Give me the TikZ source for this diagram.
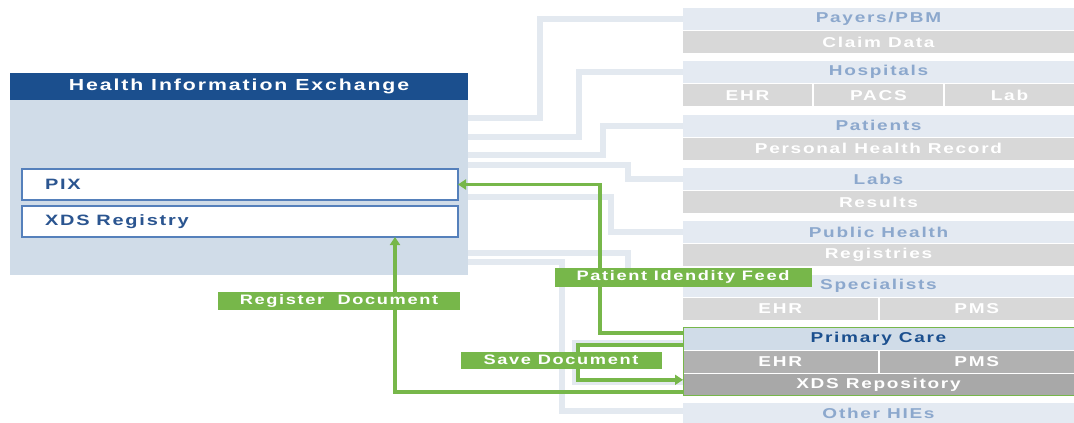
\documentclass[tikz,border=0pt]{standalone}
\usepackage{fontspec}
\setmainfont{Liberation Sans}
\newfontfamily\hiefont[LetterSpace=12,FakeStretch=1.33]{Liberation Sans}
\usetikzlibrary{
    arrows.meta,
    backgrounds,
    calc,
    fit,
    positioning
}
\definecolor{hieblue}{HTML}{1B4F8E}
\definecolor{hiepale}{HTML}{D0DCE8}
\definecolor{hieframe}{HTML}{5580BB}
\definecolor{hietext}{HTML}{2B5590}
\definecolor{grouppale}{HTML}{E4EAF2}
\definecolor{grouptext}{HTML}{8CA8CD}
\definecolor{datagrey}{HTML}{D8D8D8}
\definecolor{primgrey}{HTML}{B1B1B1}
\definecolor{repogrey}{HTML}{A8A8A8}
\definecolor{linkgrey}{HTML}{E3E9F0}
\definecolor{feedgreen}{HTML}{77B74A}
\tikzset{
    % HIE side
    hie body/.style={
        fill=hiepale,
        anchor=north west,
        minimum width=458pt,
        minimum height=202pt,
        inner sep=0pt,
        outer sep=0pt
    },
    hie head/.style={
        fill=hieblue,
        text=white,
        anchor=north west,
        minimum width=458pt,
        minimum height=27pt,
        inner sep=0pt,
        outer sep=0pt,
        font=\hiefont\bfseries\fontsize{16}{18}\selectfont
    },
    hie item/.style={
        draw=hieframe,
        line width=1.2pt,
        fill=white,
        text=hietext,
        text width=390pt,
        align=left,
        inner xsep=23pt,
        inner ysep=0pt,
        minimum height=31pt,
        outer sep=0pt,
        font=\hiefont\bfseries\fontsize{15}{17}\selectfont
    },
    % participant boxes
    group head/.style={
        fill=grouppale,
        text=grouptext,
        minimum width=391pt,
        minimum height=22pt,
        inner sep=0pt,
        outer sep=0pt,
        font=\hiefont\bfseries\fontsize{14.3}{16}\selectfont
    },
    group data/.style={
        fill=datagrey,
        text=white,
        minimum width=391pt,
        minimum height=22pt,
        inner sep=0pt,
        outer sep=0pt,
        font=\hiefont\bfseries\fontsize{14.3}{16}\selectfont
    },
    third/.style={minimum width=129pt},
    half/.style={minimum width=194.5pt},
    % connectors
    link/.style={
        linkgrey,
        line width=6pt
    },
    feed/.style={
        feedgreen,
        line width=3.5pt,
        -{Triangle[width=10pt,length=8pt]}
    },
    feed label/.style={
        fill=feedgreen,
        text=white,
        inner sep=0pt,
        font=\hiefont\bfseries\fontsize{13.7}{15}\selectfont
    }
}

\begin{document}
\begin{tikzpicture}[x=1pt, y=-1pt, node distance=1pt]
    \useasboundingbox (0,0) rectangle (1074,423);

    % exchange
    \node[hie body] (hie) at (10,73) {};
    \node[hie head] (hietitle) at (hie.north west) {Health Information Exchange};
    \node[hie item, anchor=north west] (pix) at (22,169) {PIX};
    \node[hie item, below=6pt of pix] (xdsreg) {XDS\hspace{0.45em}Registry};

    % participants
    \node[group head, anchor=north west] (payers) at (683,8) {Payers/PBM};
    \node[group data, below=of payers] (claims) {Claim Data};

    \node[group head, below=8.3pt of claims] (hospitals) {Hospitals};
    \node[group data, third, below=of hospitals.south west, anchor=north west] (hospehr) {EHR};
    \node[group data, third, right=2pt of hospehr] (hosppacs) {PACS};
    \node[group data, third, right=2pt of hosppacs] (hosplab) {Lab};

    \node[group head, below=8.3pt of hospehr.south west, anchor=north west] (patients) {Patients};
    \node[group data, below=of patients] (phr) {Personal Health Record};

    \node[group head, below=8.3pt of phr] (labs) {Labs};
    \node[group data, below=of labs] (results) {Results};

    \node[group head, below=8.3pt of results] (public) {Public Health};
    \node[group data, below=of public] (registries) {Registries};

    \node[group head, below=8.3pt of registries] (specialists) {Specialists};
    \node[group data, half, below=of specialists.south west, anchor=north west] (specehr) {EHR};
    \node[group data, half, right=2pt of specehr] (specpms) {PMS};

    \node[group head, fill=hiepale, text=hieblue, below=8.3pt of specehr.south west, anchor=north west] (primary) {Primary Care};
    \node[group data, half, fill=primgrey, below=of primary.south west, anchor=north west] (primehr) {EHR};
    \node[group data, half, fill=primgrey, right=2pt of primehr] (primpms) {PMS};
    \node[group data, fill=repogrey, below=of primehr.south west, anchor=north west] (xdsrepo) {XDS Repository};
    \node[draw=feedgreen, line width=1pt, fit=(primary)(xdsrepo), inner sep=0pt] (primgroup) {};

    \node[group head, below=7pt of xdsrepo] (otherhie) {Other HIEs};

    % grey connectors
    \begin{scope}[on background layer]
        \draw[link] ($(hie.north east)+(0,45)$) -| ($(payers.west)+(-143,0)$) -- (payers.west);
        \draw[link] ($(hie.north east)+(0,64)$) -| ($(hospitals.west)+(-104,0)$) -- (hospitals.west);
        \draw[link] ($(hie.north east)+(0,82)$) -| ($(patients.west)+(-80,0)$) -- (patients.west);
        \draw[link] ($(hie.north east)+(0,92)$) -| ($(labs.west)+(-55,0)$) -- (labs.west);
        \draw[link] ($(hie.north east)+(0,124)$) -| ($(public.west)+(-72,0)$) -- (public.west);
        \draw[link] ($(hie.north east)+(0,180)$) -| ($(specialists.west)+(-55,-4)$) -- ($(specialists.west)+(0,-4)$);
        \draw[link] ($(hie.north east)+(0,189)$) -| ($(otherhie.west)+(-121,-3)$) -- ($(otherhie.west)+(0,-3)$);
        \draw[link] ($(primary.south west)+(0,-7)$) -| ($(xdsrepo.west)+(-108,-3)$) -- ($(xdsrepo.west)+(0,-3)$);
    \end{scope}

    % green flows
    \draw[feed] ($(primary.north west)+(0,5)$) -| ($(pix.east)+(142,0)$) -- (pix.east);
    \draw[feed] ($(xdsrepo.south west)+(0,-4)$) -| ($(xdsreg.south east)+(-63,0)$);
    \draw[feed] ($(primary.south west)+(0,-5)$) -| ($(xdsrepo.west)+(-105,-5)$) -- ($(xdsrepo.west)+(0,-5)$);

    \node[feed label, minimum width=242pt, minimum height=18pt] (regdoc) at (339,301) {Register\ \ Document};
    \node[feed label, minimum width=257pt, minimum height=19pt] (pidfeed) at (683,277) {Patient Idendity Feed};
    \node[feed label, minimum width=201pt, minimum height=17pt] (savedoc) at (561,360) {Save Document};
\end{tikzpicture}
\end{document}
